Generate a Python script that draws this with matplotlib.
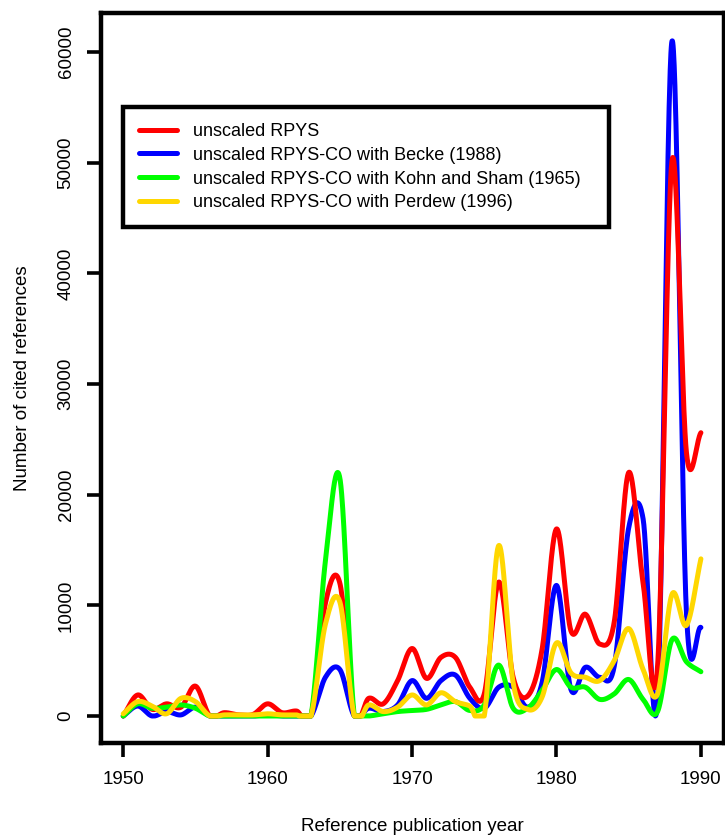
import numpy as np
import matplotlib
matplotlib.use("Agg")
import matplotlib.pyplot as plt

plt.rcParams['font.family'] = ['Liberation Sans', 'DejaVu Sans']

years = list(range(1950, 1991))

rpys = [0, 1900, 600, 1100, 800, 2700, 0, 300, 100, 150,
        1100, 300, 450, 0, 10200, 12000, 0, 1600, 1100, 3200,
        6100, 3400, 5300, 5300, 2600, 2000, 12100, 3500, 1800, 6000,
        16900, 7700, 9200, 6500, 8500, 22000, 12000, 4500, 50200, 23800,
        25600]
becke = [0, 900, 0, 400, 100, 800, 0, 0, 0, 0,
         100, 0, 0, 0, 3500, 4200, 0, 700, 400, 1000,
         3200, 1600, 3200, 3700, 1600, 700, 2600, 2600, 800, 3000,
         11800, 2400, 4400, 3500, 4500, 17000, 17800, 1500, 61000, 9300,
         8000]
kohn = [0, 1100, 700, 800, 1000, 700, 0, 0, 0, 0,
        0, 0, 0, 0, 14000, 21500, 0, 0, 200, 400,
        500, 600, 1000, 1300, 500, 1000, 4600, 700, 700, 2300,
        4200, 2600, 2600, 1500, 2000, 3300, 1500, 400, 6900, 4900,
        4000]
perdew = [200, 1300, 900, 200, 1600, 1300, 0, 100, 100, 100,
          200, 100, 100, 0, 8300, 10300, 0, 1000, 400, 800,
          1900, 1000, 2100, 1300, 900, 0, 15400, 3000, 600, 1700,
          6600, 3900, 3500, 3200, 5000, 7900, 4200, 2000, 11000, 8200,
          14200]

labels = ["unscaled RPYS",
          "unscaled RPYS-CO with Becke (1988)",
          "unscaled RPYS-CO with Kohn and Sham (1965)",
          "unscaled RPYS-CO with Perdew (1996)"]
colors = ["#FF0000", "#0000FF", "#00FF00", "#FFD700"]


def smooth_curve(x, y, per=40):
    """Catmull-Rom style cubic through every yearly value (drawing only)."""
    x = np.asarray(x, float)
    y = np.asarray(y, float)
    n = len(x)
    m = np.empty(n)
    m[1:-1] = (y[2:] - y[:-2]) / (x[2:] - x[:-2])
    m[0] = (y[1] - y[0]) / (x[1] - x[0])
    m[-1] = (y[-1] - y[-2]) / (x[-1] - x[-2])
    xs_all, ys_all = [], []
    for i in range(n - 1):
        h = x[i + 1] - x[i]
        t = np.linspace(0, 1, per, endpoint=(i == n - 2))
        h00 = 2 * t**3 - 3 * t**2 + 1
        h10 = t**3 - 2 * t**2 + t
        h01 = -2 * t**3 + 3 * t**2
        h11 = t**3 - t**2
        xs_all.append(x[i] + t * h)
        ys_all.append(h00 * y[i] + h10 * h * m[i] + h01 * y[i + 1] + h11 * h * m[i + 1])
    xs = np.concatenate(xs_all)
    ys = np.clip(np.concatenate(ys_all), 0, None)
    return xs, ys


fig = plt.figure(figsize=(7.25, 8.36), dpi=100)
W, H = 725, 836
ax = fig.add_axes([101 / W, (H - 743) / H, (724 - 101) / W, (743 - 13) / H])

series = [rpys, becke, kohn, perdew]
order = [1, 0, 2, 3]
handles = {}
for i in order:
    xs, ys = smooth_curve(years, series[i])
    ln, = ax.plot(xs, ys, color=colors[i], lw=3.6, solid_capstyle='round',
                  solid_joinstyle='round', zorder=2 + order.index(i))
    handles[i] = ln

ax.set_xlim(1948.46, 1991.6)
ax.set_ylim(-2440, 63530)
ax.set_xticks([1950, 1960, 1970, 1980, 1990])
ax.set_yticks([0, 10000, 20000, 30000, 40000, 50000, 60000])
ax.tick_params(axis='both', length=10, width=2.6, labelsize=13.5, color='black')
ax.tick_params(axis='x', pad=10)
ax.tick_params(axis='y', pad=9)
for lab in ax.get_yticklabels():
    lab.set_rotation(90)
    lab.set_va('center')
for sp in ax.spines.values():
    sp.set_linewidth(3.2)

ax.set_xlabel("Reference publication year", fontsize=13.5, labelpad=22)
ax.set_ylabel("Number of cited references", fontsize=13.5, labelpad=19)

leg = ax.legend([handles[i] for i in range(4)], labels, loc='upper left',
                bbox_to_anchor=(123 / W, 1 - 224 / H, 486 / W, 117 / H),
                bbox_transform=fig.transFigure, mode='expand',
                borderaxespad=0, fontsize=13, fancybox=False, framealpha=1,
                edgecolor='black', handlelength=2.1, handletextpad=0.9,
                labelspacing=0.38, borderpad=0.88)
leg.get_frame().set_linewidth(3.2)
for l in leg.get_lines():
    l.set_linewidth(3.6)

fig.savefig("out.png", dpi=100)
